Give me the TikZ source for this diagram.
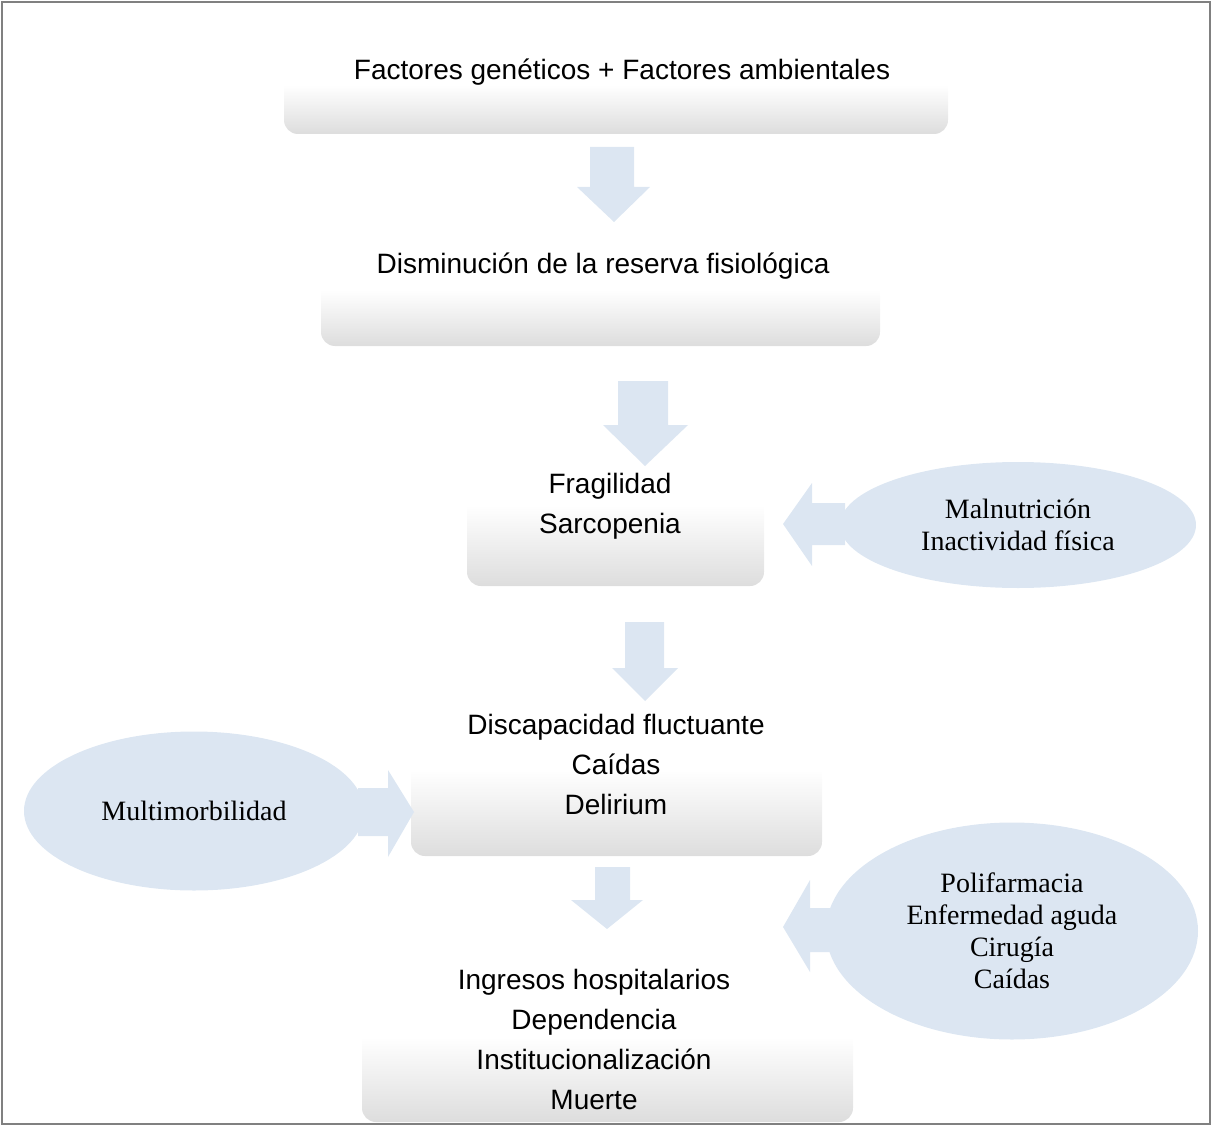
\documentclass[tikz,border=0pt]{standalone}
\usepackage{fontspec}
\setmainfont{Liberation Serif}
\setsansfont{Liberation Sans}
\usetikzlibrary{shapes.geometric}
\definecolor{ablue}{HTML}{DCE6F2}
\definecolor{bgray}{HTML}{DDDDDD}
\definecolor{framec}{HTML}{808080}
\begin{document}
\begin{tikzpicture}[x=1pt,y=-1pt,
  box/.style={rectangle, rounded corners=14pt, inner sep=0pt, top color=white, bottom color=bgray, middle color=white},
  btext/.style={font=\fontsize{28}{40}\sffamily\selectfont, align=center, inner sep=0pt},
  ell/.style={ellipse, fill=ablue, inner sep=0pt, font=\fontsize{28}{32}\rmfamily\selectfont, align=center},
  barrow/.style={fill=ablue}]
\useasboundingbox (0,0) rectangle (1212,1126);
\draw[framec, line width=2pt] (2,2) rectangle (1210,1124);
% boxes
\node[box, minimum width=664pt, minimum height=98pt] (b1) at (616,85) {};
\node[box, minimum width=559pt, minimum height=112pt] (b2) at (600.5,290) {};
\node[box, minimum width=297pt, minimum height=162pt] (b3) at (615.5,505) {};
\node[box, minimum width=411pt, minimum height=172pt] (b4) at (616.5,770) {};
\node[box, minimum width=491pt, minimum height=170pt] (b5) at (607.5,1037) {};
% block arrows
\fill[barrow] (590,147) -- (634,147) -- (634,187) -- (650,187) -- (614,222) -- (577,187) -- (590,187) -- cycle;
\fill[barrow] (618,381) -- (668,381) -- (668,425) -- (688,425) -- (645,466) -- (603,425) -- (618,425) -- cycle;
\fill[barrow] (625,622) -- (664,622) -- (664,668) -- (678,668) -- (645,701) -- (612,668) -- (625,668) -- cycle;
\fill[barrow] (595,867) -- (630,867) -- (630,900) -- (643,900) -- (607,929) -- (571,900) -- (595,900) -- cycle;
\fill[barrow] (845,503) -- (812,503) -- (812,483) -- (783,524) -- (812,566) -- (812,545) -- (845,545) -- cycle;
\fill[barrow] (358,788) -- (388,788) -- (388,770) -- (414,812) -- (388,857) -- (388,836) -- (358,836) -- cycle;
\fill[barrow] (845,908) -- (810,908) -- (810,880) -- (783,927) -- (810,972) -- (810,952) -- (845,952) -- cycle;
% ellipses
\node[ell, minimum width=356pt, minimum height=126pt] (e1) at (1018,525) {Malnutrición\\Inactividad física};
\node[ell, minimum width=340pt, minimum height=159pt] (e0) at (194,811) {Multimorbilidad};
\node[ell, minimum width=372pt, minimum height=217pt] (e2) at (1012,931) {Polifarmacia\\Enfermedad aguda\\Cirugía\\Caídas};
% texts
\node[btext] (t1) at (622,72) {Factores genéticos + Factores ambientales};
\node[btext] (t2) at (603,266) {Disminución de la reserva fisiológica};
\node[btext] (t3) at (610,506) {Fragilidad\\Sarcopenia};
\node[btext] (t4) at (616,764) {Discapacidad fluctuante\\Caídas\\Delirium};
\node[btext] (t5) at (594,1039) {Ingresos hospitalarios\\Dependencia\\Institucionalización\\Muerte};
\end{tikzpicture}
\end{document}
